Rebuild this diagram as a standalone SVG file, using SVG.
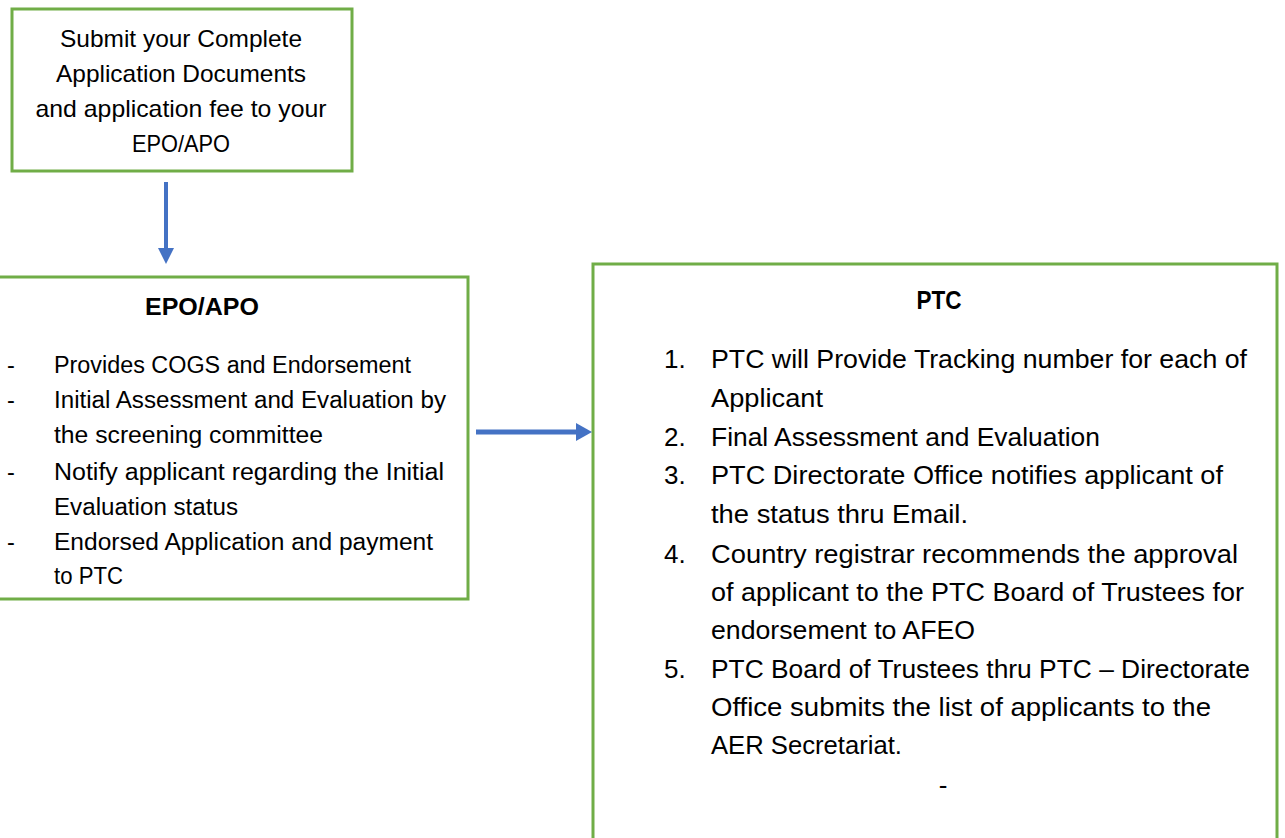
<svg xmlns="http://www.w3.org/2000/svg" width="1285" height="838" viewBox="0 0 1285 838">
<defs>
<style>
.box{fill:#ffffff;stroke:#70AD47;stroke-width:3}
.t{font-family:"Liberation Sans",Arial,sans-serif;fill:#000000}
.s1{font-size:24px}
.s2{font-size:23.5px}
.s3{font-size:26px}
.b{font-weight:bold}
.c{text-anchor:middle}
.conn{stroke:#4472C4;fill:none}
.head{fill:#4472C4}
</style>
</defs>
<rect width="1285" height="838" fill="#ffffff"/>

<g id="node-submit">
<rect class="box" x="12" y="9" width="340" height="162"/>
<text class="t s1 c" x="181" y="47" textLength="242" lengthAdjust="spacingAndGlyphs">Submit your Complete</text>
<text class="t s1 c" x="181" y="82" textLength="250" lengthAdjust="spacingAndGlyphs">Application Documents</text>
<text class="t s1 c" x="181" y="117" textLength="291" lengthAdjust="spacingAndGlyphs">and application fee to your</text>
<text class="t s1 c" x="181" y="152" textLength="98" lengthAdjust="spacingAndGlyphs">EPO/APO</text>
</g>

<g id="node-epo">
<rect class="box" x="-3" y="277" width="471" height="322"/>
<text class="t s2 b c" x="202" y="315" textLength="114" lengthAdjust="spacingAndGlyphs">EPO/APO</text>
<g class="t s2">
<text x="7" y="373">-</text>
<text x="54" y="373" textLength="357" lengthAdjust="spacingAndGlyphs">Provides COGS and Endorsement</text>
<text x="7" y="408">-</text>
<text x="54" y="408" textLength="392" lengthAdjust="spacingAndGlyphs">Initial Assessment and Evaluation by</text>
<text x="54" y="443" textLength="269" lengthAdjust="spacingAndGlyphs">the screening committee</text>
<text x="7" y="480">-</text>
<text x="54" y="480" textLength="390" lengthAdjust="spacingAndGlyphs">Notify applicant regarding the Initial</text>
<text x="54" y="515" textLength="184" lengthAdjust="spacingAndGlyphs">Evaluation status</text>
<text x="7" y="550">-</text>
<text x="54" y="550" textLength="379" lengthAdjust="spacingAndGlyphs">Endorsed Application and payment</text>
<text x="54" y="584" textLength="69" lengthAdjust="spacingAndGlyphs">to PTC</text>
</g>
</g>

<g id="node-ptc">
<rect class="box" x="593" y="264" width="684" height="590"/>
<text class="t s3 b c" x="939" y="309" textLength="45" lengthAdjust="spacingAndGlyphs">PTC</text>
<g class="t s3">
<text x="664" y="368">1.</text>
<text x="711" y="368" textLength="536" lengthAdjust="spacingAndGlyphs">PTC will Provide Tracking number for each of</text>
<text x="711" y="407" textLength="112" lengthAdjust="spacingAndGlyphs">Applicant</text>
<text x="664" y="446">2.</text>
<text x="711" y="446" textLength="389" lengthAdjust="spacingAndGlyphs">Final Assessment and Evaluation</text>
<text x="664" y="484">3.</text>
<text x="711" y="484" textLength="512" lengthAdjust="spacingAndGlyphs">PTC Directorate Office notifies applicant of</text>
<text x="711" y="523" textLength="257" lengthAdjust="spacingAndGlyphs">the status thru Email.</text>
<text x="664" y="563">4.</text>
<text x="711" y="563" textLength="527" lengthAdjust="spacingAndGlyphs">Country registrar recommends the approval</text>
<text x="711" y="601" textLength="533" lengthAdjust="spacingAndGlyphs">of applicant to the PTC Board of Trustees for</text>
<text x="711" y="639" textLength="264" lengthAdjust="spacingAndGlyphs">endorsement to AFEO</text>
<text x="664" y="678">5.</text>
<text x="711" y="678" textLength="539" lengthAdjust="spacingAndGlyphs">PTC Board of Trustees thru PTC – Directorate</text>
<text x="711" y="716" textLength="500" lengthAdjust="spacingAndGlyphs">Office submits the list of applicants to the</text>
<text x="711" y="754" textLength="191" lengthAdjust="spacingAndGlyphs">AER Secretariat.</text>
<text class="c" x="943" y="794">-</text>
</g>
</g>

<g id="connectors">
<line class="conn" x1="166" y1="182" x2="166" y2="249" stroke-width="4"/>
<polygon class="head" points="158,248 174,248 166,264"/>
<line class="conn" x1="476" y1="432" x2="577" y2="432" stroke-width="5"/>
<polygon class="head" points="576,423 576,441 592,432"/>
</g>
</svg>
